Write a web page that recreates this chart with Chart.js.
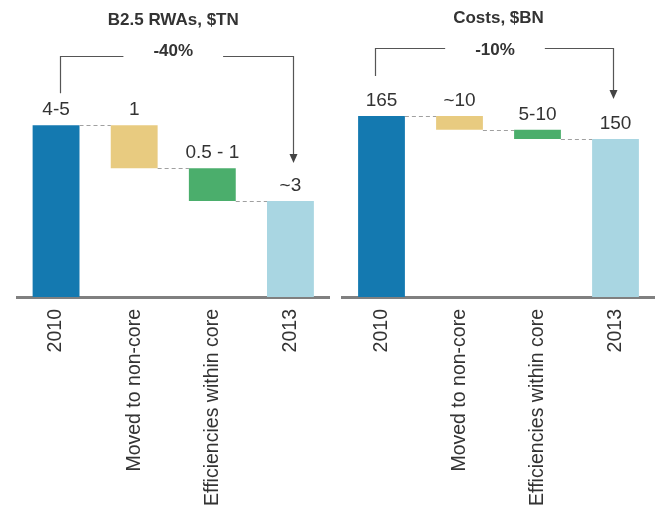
<!DOCTYPE html>
<html>
<head>
<meta charset="utf-8">
<script src="https://cdn.jsdelivr.net/npm/chart.js@4.4.1/dist/chart.umd.min.js"></script>
<style>
    html, body { margin: 0; padding: 0; background: #fff; }
    #wrap { position: relative; width: 657px; height: 508px; overflow: hidden; }
    .box { position: absolute; top: 0; height: 508px; }
    #left { left: 0; width: 337px; }
    #right { left: 337px; width: 320px; }
</style>
</head>
<body>
<div id="wrap">
    <div class="box" id="left"><canvas id="rwa-chart"></canvas></div>
    <div class="box" id="right"><canvas id="cost-chart"></canvas></div>
</div>
<script>
// Waterfall data
const categories = ['2010', 'Moved to non-core', 'Efficiencies within core', '2013'];
const stepKinds = ['total', 'down', 'down', 'total'];
const rwaValues = [4.5, 0.85, 0.65, 3.0];
const rwaLabels = ['4-5', '1', '0.5 - 1', '~3'];
const costValues = [165, 9, 6, 150];
const costLabels = ['165', '~10', '5-10', '150'];
const barColors = ['#1479b0', '#e8cb80', '#4bae6c', '#a9d6e2'];

const FONT = '"Liberation Sans", Arial, sans-serif';

// Turn step values into [low, high] floating bars
function toFloating(values) {
    let level = 0;
    return values.map((v, i) => {
        if (stepKinds[i] === 'total') {
            level = v;
            return [0, v];
        }
        const bar = [level - v, level];
        level -= v;
        return bar;
    });
}

// Connectors, value labels and the change bracket
const waterfallExtras = {
    id: 'waterfallExtras',
    afterDatasetsDraw(chart, args, opts) {
        const ctx = chart.ctx;
        const bars = chart.getDatasetMeta(0).data;
        const raw = chart.data.datasets[0].data;
        const yScale = chart.scales.y;
        ctx.save();

        // dashed connectors between bars
        ctx.strokeStyle = '#a0a0a0';
        ctx.lineWidth = 1.2;
        ctx.setLineDash([4, 3]);
        for (let i = 0; i < bars.length - 1; i++) {
            const a = bars[i], b = bars[i + 1];
            const level = stepKinds[i] === 'total' ? raw[i][1] : raw[i][0];
            const py = Math.round(yScale.getPixelForValue(level)) + 0.5;
            ctx.beginPath();
            ctx.moveTo(a.x + a.width / 2, py);
            ctx.lineTo(b.x - b.width / 2, py);
            ctx.stroke();
        }
        ctx.setLineDash([]);

        // value labels above each bar
        ctx.font = '19px ' + FONT;
        ctx.fillStyle = '#333';
        ctx.textAlign = 'center';
        ctx.textBaseline = 'middle';
        bars.forEach((bar, i) => {
            const top = Math.min(bar.y, bar.base);
            ctx.fillText(opts.labels[i], bar.x, top - 15);
        });

        // change text and bracket arrow
        const first = bars[0], last = bars[bars.length - 1];
        const cx = (chart.chartArea.left + chart.chartArea.right) / 2 + opts.changeDx;
        ctx.font = 'bold 17px ' + FONT;
        ctx.fillText(opts.change, cx, opts.changeY);
        const half = ctx.measureText(opts.change).width / 2 + 30;

        const x1 = Math.round(first.x + opts.dx1) + 0.5;
        const x2 = Math.round(last.x + opts.dx2) + 0.5;
        const by = opts.bracketY + 0.5;
        const tip = last.y - opts.gapEnd;
        ctx.strokeStyle = '#555';
        ctx.fillStyle = '#444';
        ctx.lineWidth = 1.2;
        ctx.beginPath();
        ctx.moveTo(x1, first.y - opts.gapStart);
        ctx.lineTo(x1, by);
        ctx.lineTo(cx - half, by);
        ctx.moveTo(cx + half, by);
        ctx.lineTo(x2, by);
        ctx.lineTo(x2, tip - 8);
        ctx.stroke();
        ctx.beginPath();
        ctx.moveTo(x2 - 4, tip - 9);
        ctx.lineTo(x2 + 4, tip - 9);
        ctx.lineTo(x2, tip);
        ctx.closePath();
        ctx.fill();

        ctx.restore();
    }
};

function makeChart(canvasId, values, labels, yMin, yMax, padding, title, titleTop, extras) {
    return new Chart(document.getElementById(canvasId), {
        type: 'bar',
        data: {
            labels: categories,
            datasets: [{
                data: toFloating(values),
                backgroundColor: barColors,
                borderWidth: 0,
                barPercentage: 1,
                categoryPercentage: 0.6,
                clip: 0
            }]
        },
        plugins: [waterfallExtras],
        options: {
            responsive: true,
            maintainAspectRatio: false,
            animation: false,
            layout: { padding: { left: padding[0], right: padding[1], top: 0, bottom: 0 } },
            scales: {
                y: { display: false, min: yMin, max: yMax },
                x: {
                    grid: { display: false },
                    border: { display: true, color: '#808080', width: 3 },
                    ticks: {
                        color: '#333',
                        font: { size: 19.5, family: FONT },
                        minRotation: 90,
                        maxRotation: 90,
                        padding: 4,
                        autoSkip: false
                    },
                    afterFit(axis) { axis.height = 211; }
                }
            },
            plugins: {
                legend: { display: false },
                tooltip: { enabled: false },
                title: {
                    display: true,
                    text: title,
                    color: '#333',
                    font: { size: 17, weight: 'bold', family: FONT },
                    padding: { top: titleTop, bottom: 100 - titleTop - 20.4 }
                },
                waterfallExtras: Object.assign({ labels }, extras)
            }
        }
    });
}

makeChart('rwa-chart', rwaValues, rwaLabels, 1.1, 5, [17, 7.5], 'B2.5 RWAs, $TN', 10,
    { change: '-40%', changeY: 51, changeDx: 0, bracketY: 56, dx1: 3.5, dx2: 2.5, gapStart: 32, gapEnd: 38 });

makeChart('cost-chart', costValues, costLabels, 47, 175.4, [5.5, 2.5], 'Costs, $BN', 8,
    { change: '-10%', changeY: 50, changeDx: -3.5, bracketY: 48, dx1: -6.5, dx2: -2.5, gapStart: 40, gapEnd: 40 });
</script>
</body>
</html>
